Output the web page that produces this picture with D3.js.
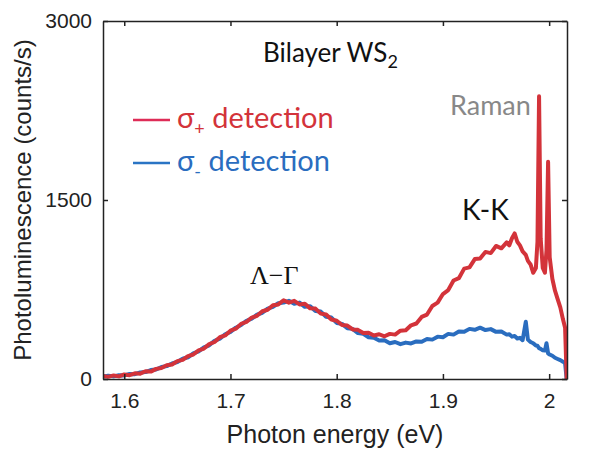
<!DOCTYPE html>
<meta charset="utf-8">
<style>
    body { margin: 0; background: #fff; }
    .axis path, .axis line { stroke: #222; stroke-width: 1.5px; }
    .axis text { font-family: "Liberation Sans", Arial, sans-serif; font-size: 21px; fill: #222; }
    .line { fill: none; stroke-width: 4px; stroke-linejoin: round; }
</style>
<svg width="608" height="457"></svg>
<script src="https://cdn.jsdelivr.net/npm/d3@7"></script>
<script>

    // photon energy (eV)
    var energy = [1.580,1.585,1.590,1.595,1.600,1.605,1.610,1.615,1.620,1.625,1.630,1.635,1.640,1.645,1.650,1.655,1.660,1.665,1.670,1.675,
        1.680,1.685,1.690,1.695,1.700,1.705,1.710,1.715,1.720,1.725,1.730,1.735,1.740,1.745,1.750,1.755,1.760,1.765,1.770,1.775,
        1.780,1.785,1.790,1.795,1.800,1.805,1.810,1.815,1.820,1.825,1.830,1.835,1.840,1.845,1.850,1.855,1.860,1.865,1.870,1.875,
        1.880,1.885,1.890,1.895,1.900,1.905,1.910,1.915,1.920,1.925,1.930,1.935,1.940,1.945,1.950,1.955,1.960,
        1.9625,1.965,1.9675,1.970,1.9725,1.975,1.978,1.980,1.9825,1.985,1.9875,1.989,1.9905,1.992,1.994,1.996,1.9975,1.999,
        2.0005,2.003,2.0055,2.008,2.0105,2.013,2.015,2.0165];

    // sigma+ detection (counts/s)
    var sigmaPlus = [25,18,30,22,38,32,48,45,65,62,85,92,115,122,150,160,192,205,240,255,
        292,310,350,365,405,422,462,478,515,530,568,580,618,625,660,640,655,625,630,592,
        590,548,540,498,488,452,448,415,412,385,388,365,375,358,378,372,405,408,450,465,
        520,540,612,640,712,745,825,845,925,935,1005,1010,1065,1055,1115,1095,1145,
        1120,1180,1220,1150,1120,1070,1040,990,960,890,930,1150,2370,1180,930,890,1080,1820,
        1020,840,740,670,600,500,430,0];

    // sigma- detection (counts/s)
    var sigmaMinus = [20,28,22,32,30,42,40,55,58,75,80,100,108,130,142,170,182,215,232,265,
        282,320,338,375,395,430,452,488,505,540,555,590,605,635,640,655,630,640,605,610,
        570,565,522,515,470,462,425,420,385,378,350,345,322,325,300,310,292,305,298,315,
        312,335,330,355,350,378,372,398,395,420,412,430,410,418,395,398,372,
        375,355,360,340,345,325,480,330,310,300,280,278,258,252,240,238,300,215,
        205,195,178,168,158,145,132,0];

    var xTicks = [1.6, 1.7, 1.8, 1.9, 2.0],
        yTicks = [0, 1500, 3000];

    var svg = d3.select("svg"),
        margin = {top: 21, right: 41, bottom: 78, left: 103},
        width = svg.attr("width") - margin.left - margin.right,
        height = svg.attr("height") - margin.top - margin.bottom,
        g = svg.append("g").attr("transform", "translate(" + margin.left + "," + margin.top + ")");

    var x = d3.scaleLinear().domain([1.58, 2.0168]).range([0, width]),
        y = d3.scaleLinear().domain([0, 3000]).range([height, 0]);

    g.append("clipPath").attr("id", "clip")
        .append("rect").attr("width", width).attr("height", height);

    var line = d3.line()
        .x(function(d) { return x(d[0]); })
        .y(function(d) { return y(d[1]); });

    var series = [
        {id: "minus", color: "#2a6dbf", values: energy.map(function(e, i) { return [e, sigmaMinus[i]]; })},
        {id: "plus", color: "#d3333a", values: energy.map(function(e, i) { return [e, sigmaPlus[i]]; })}
    ];

    g.selectAll(".line")
        .data(series)
        .enter().append("path")
        .attr("class", "line")
        .attr("clip-path", "url(#clip)")
        .attr("d", function(d) { return line(d.values); })
        .style("stroke", function(d) { return d.color; });

    // axes, ticks pointing inward on all four sides
    g.append("g").attr("class", "axis")
        .attr("transform", "translate(0," + height + ")")
        .call(d3.axisBottom(x).tickValues(xTicks).tickSizeInner(-5).tickSizeOuter(0).tickPadding(14)
            .tickFormat(function(d) { return d === 2 ? "2" : d3.format(".1f")(d); }));
    g.append("g").attr("class", "axis")
        .call(d3.axisTop(x).tickValues(xTicks).tickSizeInner(-5).tickSizeOuter(0).tickFormat(""));
    g.append("g").attr("class", "axis")
        .call(d3.axisLeft(y).tickValues(yTicks).tickSizeInner(-5).tickSizeOuter(0).tickPadding(11)
            .tickFormat(d3.format("d")));
    g.append("g").attr("class", "axis")
        .attr("transform", "translate(" + width + ",0)")
        .call(d3.axisRight(y).tickValues(yTicks).tickSizeInner(-5).tickSizeOuter(0).tickFormat(""));

    svg.append("text")
        .attr("x", margin.left + width / 2)
        .attr("y", 443)
        .attr("text-anchor", "middle")
        .style("font", "25px 'Liberation Sans', Arial, sans-serif")
        .style("fill", "#222")
        .text("Photon energy (eV)");

    svg.append("text")
        .attr("transform", "translate(31," + (margin.top + height / 2) + ") rotate(-90)")
        .attr("text-anchor", "middle")
        .style("font", "24px 'Liberation Sans', Arial, sans-serif")
        .style("fill", "#222")
        .text("Photoluminescence (counts/s)");

    // annotations
    var title = svg.append("text")
        .attr("x", 263).attr("y", 62)
        .style("font", "26px Lato, sans-serif")
        .style("fill", "#111")
        .text("Bilayer WS");
    title.append("tspan").attr("dy", 6).style("font-size", "18px").text("2");

    svg.append("text")
        .attr("x", 450).attr("y", 115)
        .style("font", "27px Lato, sans-serif")
        .style("fill", "#888")
        .text("Raman");

    svg.append("text")
        .attr("x", 462).attr("y", 220)
        .style("font", "28px Lato, sans-serif")
        .style("fill", "#111")
        .text("K-K");

    svg.append("text")
        .attr("x", 250).attr("y", 284)
        .style("font", "26px 'Liberation Serif', serif")
        .style("fill", "#111")
        .text("\u039B\u2212\u0393");

    // legend
    var legend = [
        {sub: "+", color: "#d3333a", lineColor: "#de2c57", y: 120},
        {sub: "-", color: "#2a6dbf", lineColor: "#2a74c4", y: 163}
    ];

    var item = svg.selectAll(".legend")
        .data(legend)
        .enter().append("g")
        .attr("class", "legend");

    item.append("line")
        .attr("x1", 133).attr("x2", 170)
        .attr("y1", function(d) { return d.y; })
        .attr("y2", function(d) { return d.y; })
        .style("stroke", function(d) { return d.lineColor; })
        .style("stroke-width", 2.5);

    var lt = item.append("text")
        .attr("x", 177)
        .attr("y", function(d) { return d.y + 8; })
        .style("font", "29px Lato, sans-serif")
        .style("fill", function(d) { return d.color; });
    lt.append("tspan").text("\u03C3");
    lt.append("tspan").attr("dy", 7).style("font-size", "18px").text(function(d) { return d.sub; });
    lt.append("tspan").attr("dy", -7).text(" detection");

</script>
